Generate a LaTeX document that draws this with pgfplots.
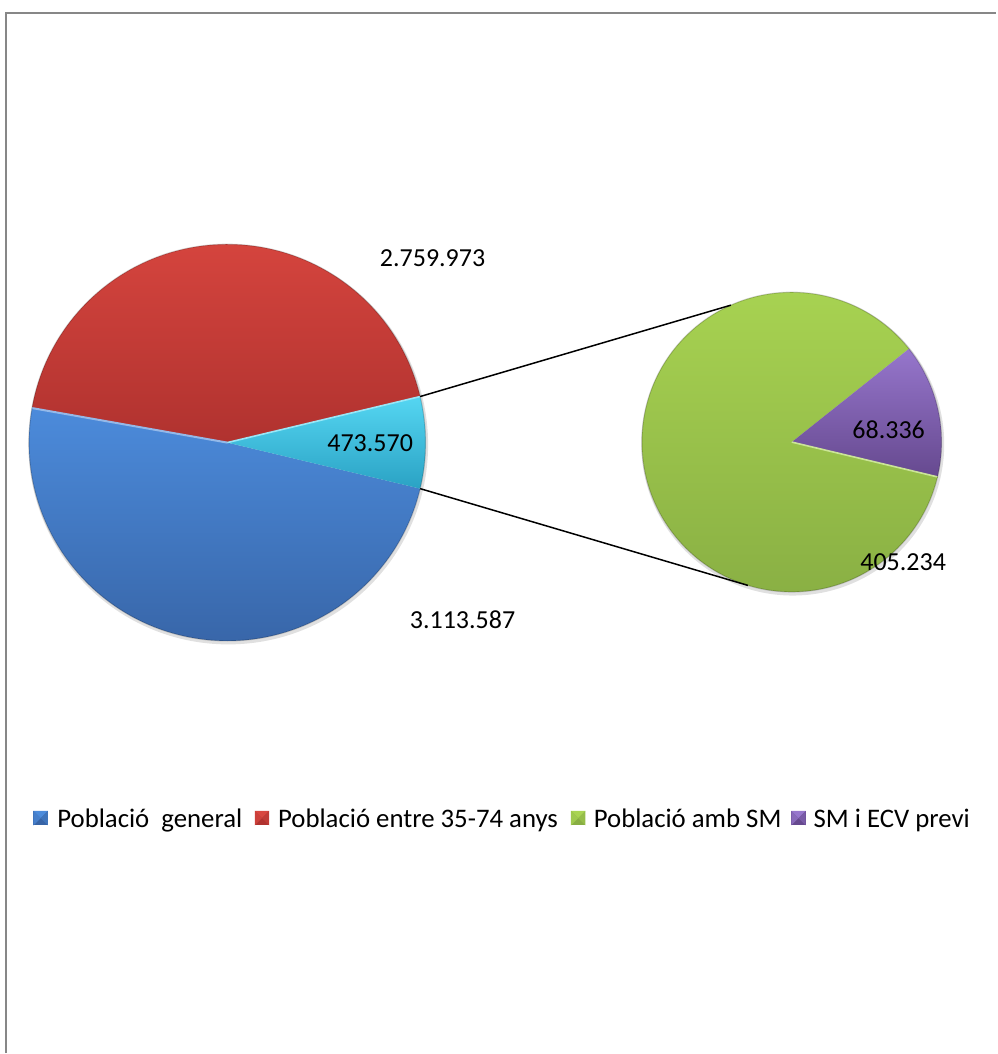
\documentclass[border=0pt]{standalone}
\usepackage{fontspec}
\setmainfont{Carlito}
\usepackage{pgfplots}
\usepackage{pgfplotstable}
\pgfplotsset{compat=1.18}
\usetikzlibrary{calc}

% primary pie
\pgfplotstableread{
name value
general 3113587
entre 2759973
altres 473570
}\primary
% secondary pie (breakdown of "altres")
\pgfplotstableread{
name value
ambSM 405234
ECV 68336
}\secondary

\pgfplotstablegetelem{0}{value}\of\primary \let\vA\pgfplotsretval
\pgfplotstablegetelem{1}{value}\of\primary \let\vB\pgfplotsretval
\pgfplotstablegetelem{2}{value}\of\primary \let\vC\pgfplotsretval
\pgfplotstablegetelem{0}{value}\of\secondary \let\vD\pgfplotsretval
\pgfplotstablegetelem{1}{value}\of\secondary \let\vE\pgfplotsretval

\edef\T{\fpeval{\vA+\vB+\vC}}
\edef\sC{\fpeval{-\vC/\T*180}}      % start of aggregated slice
\edef\eC{\fpeval{\vC/\T*180}}       % end of aggregated slice
\edef\eB{\fpeval{\eC+\vB/\T*360}}   % end of red slice
\edef\eA{\fpeval{\sC+360}}          % end of blue slice
\edef\TT{\fpeval{\vD+\vE}}
\edef\eE{\fpeval{\sC+\vE/\TT*360}}  % end of purple slice
\edef\eD{\fpeval{\sC+360}}

\definecolor{blueT}{HTML}{4C8BDB}
\definecolor{blueB}{HTML}{3764A6}
\definecolor{redT}{HTML}{D8463F}
\definecolor{redB}{HTML}{B0322F}
\definecolor{cyanT}{HTML}{55D6F2}
\definecolor{cyanB}{HTML}{2AA2C4}
\definecolor{greenT}{HTML}{A9D452}
\definecolor{greenB}{HTML}{88AE43}
\definecolor{purT}{HTML}{9676CC}
\definecolor{purB}{HTML}{66498F}
\definecolor{framegray}{HTML}{878787}

\newcommand{\pyr}[3]{% x, color top, color bottom  (legend marker)
  \fill[#3] (axis cs:#1,811.7) rectangle (axis cs:#1+14.5,826.2);
  \fill[#2] (axis cs:#1,811.7) -- (axis cs:#1+14.5,811.7) -- (axis cs:#1+7.25,818.95) -- cycle;
  \fill[#2!70!#3] (axis cs:#1,811.7) -- (axis cs:#1,826.2) -- (axis cs:#1+7.25,818.95) -- cycle;
  \fill[#2!40!#3] (axis cs:#1+14.5,811.7) -- (axis cs:#1+14.5,826.2) -- (axis cs:#1+7.25,818.95) -- cycle;
}

\begin{document}
\begin{tikzpicture}[font=\fontsize{13pt}{15pt}\selectfont,
  legtext/.style={anchor=base west, inner sep=0pt, font=\fontsize{13.4pt}{15pt}\selectfont}]
\begin{axis}[
  x=0.5pt, y=0.5pt,
  xmin=0, xmax=997, ymin=0, ymax=1054,
  y dir=reverse,
  hide axis, scale only axis, clip=false,
]
\path (axis cs:0,0) rectangle (axis cs:997,1054);
\draw[framegray, line width=1pt] (axis cs:6,1054) -- (axis cs:6,13) -- (axis cs:997,13);

% soft shadows
\fill[black, opacity=0.12] (axis cs:228.5,445) circle[radius=100pt];
\fill[black, opacity=0.12] (axis cs:793.5,444.5) circle[radius=75.8pt];

% primary pie
\def\Ra{99.25pt}
\shade[top color=blueT, bottom color=blueB] (axis cs:227.5,443) -- ++(\eB:\Ra) arc[start angle=\eB, end angle=\eA, radius=\Ra] -- cycle;
\shade[top color=redT, bottom color=redB] (axis cs:227.5,443) -- ++(\eC:\Ra) arc[start angle=\eC, end angle=\eB, radius=\Ra] -- cycle;
\shade[top color=cyanT, bottom color=cyanB] (axis cs:227.5,443) -- ++(\sC:\Ra) arc[start angle=\sC, end angle=\eC, radius=\Ra] -- cycle;
\draw[blueT!60!white, line width=1pt] (axis cs:227.5,443) -- ++(\eB:\Ra);
\draw[cyanT!60!white, line width=0.8pt] (axis cs:227.5,443) -- ++(\eC:\Ra);
\draw[black, opacity=0.18, line width=0.6pt] (axis cs:227.5,443) circle[radius=\Ra];

% secondary pie
\def\Rb{75pt}
\shade[top color=greenT, bottom color=greenB] (axis cs:792.5,442.5) -- ++(\eE:\Rb) arc[start angle=\eE, end angle=\eD, radius=\Rb] -- cycle;
\shade[top color=purT, bottom color=purB] (axis cs:792.5,442.5) -- ++(\sC:\Rb) arc[start angle=\sC, end angle=\eE, radius=\Rb] -- cycle;
\draw[greenT!60!white, line width=0.8pt] (axis cs:792.5,442.5) -- ++(\sC:\Rb);
\draw[black, opacity=0.18, line width=0.6pt] (axis cs:792.5,442.5) circle[radius=\Rb];

% connector lines
\draw[black, line width=0.75pt] ($(axis cs:227.5,443)+(\eC:\Ra)$) -- ($(axis cs:792.5,442.5)+(114:\Rb)$);
\draw[black, line width=0.75pt] ($(axis cs:227.5,443)+(\sC:\Ra)$) -- ($(axis cs:792.5,442.5)+(253:\Rb)$);

% data labels
\node at (axis cs:433,258.5) {2.759.973};
\node at (axis cs:370.5,443.5) {473.570};
\node at (axis cs:463,620) {3.113.587};
\node at (axis cs:889.5,430) {68.336};
\node at (axis cs:904,563) {405.234};

% legend
\pyr{33.5}{blueT}{blueB}
\node[legtext] at (axis cs:57,828.3) {Població\ \ general};
\pyr{255}{redT}{redB}
\node[legtext] at (axis cs:278,828.3) {Població entre 35-74 anys};
\pyr{571.5}{greenT}{greenB}
\node[legtext] at (axis cs:594,828.3) {Població amb SM};
\pyr{792}{purT}{purB}
\node[legtext] at (axis cs:814,828.3) {SM i ECV previ};
\end{axis}
\end{tikzpicture}
\end{document}
